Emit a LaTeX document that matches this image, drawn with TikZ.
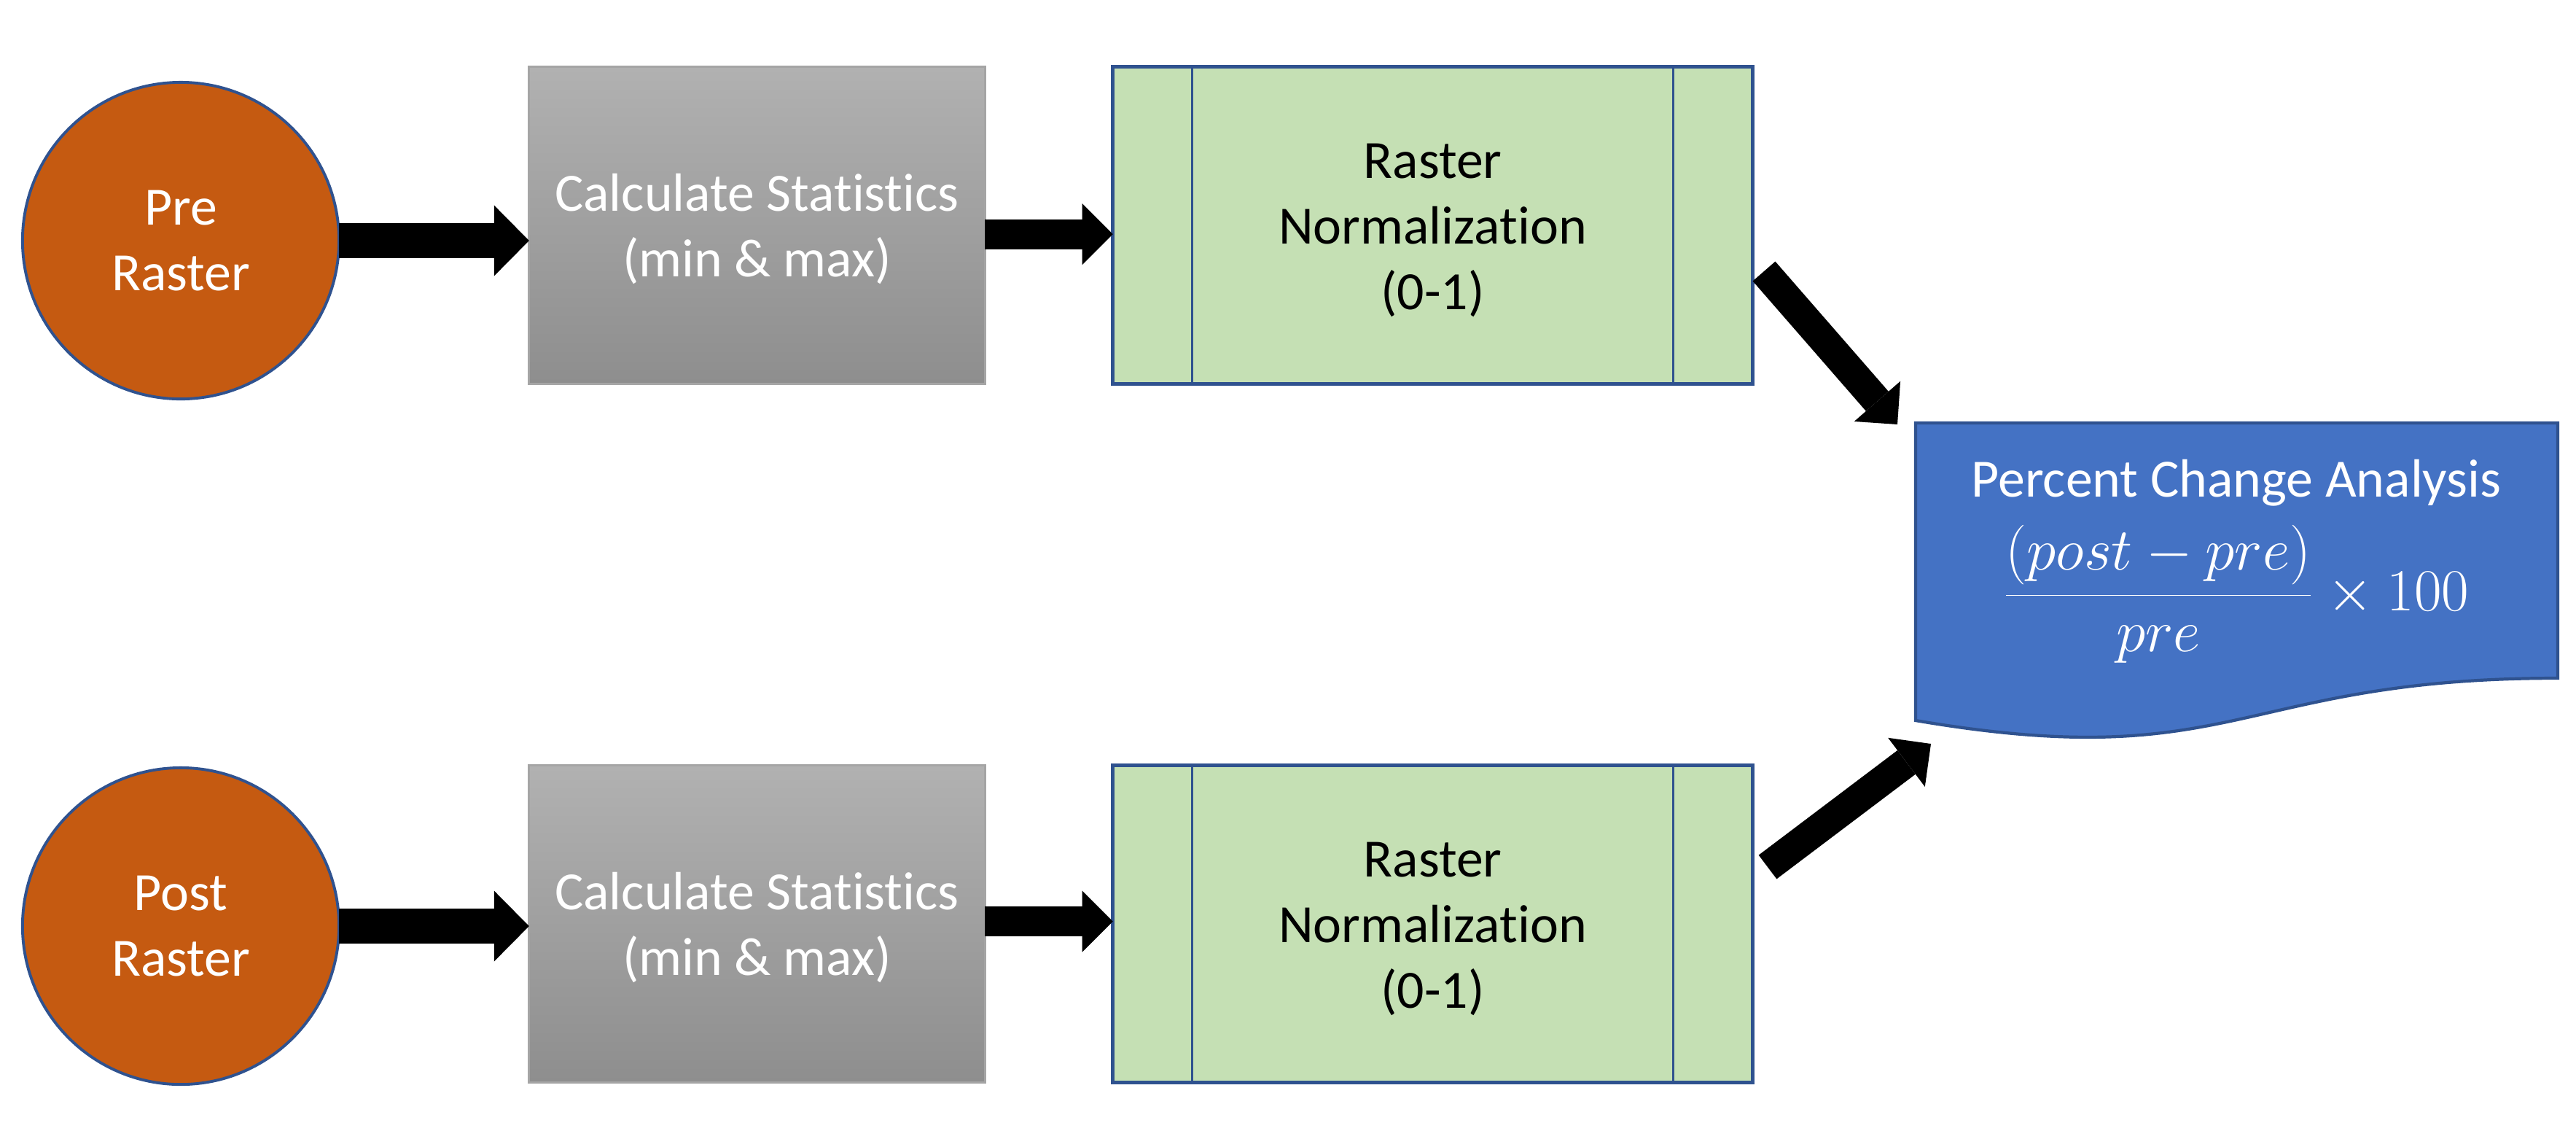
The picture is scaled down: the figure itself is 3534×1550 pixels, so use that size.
\documentclass[tikz,border=0pt]{standalone}
\usepackage{fontspec}
\setmainfont{Carlito}[Ligatures=NoCommon]
\usetikzlibrary{arrows.meta}
\definecolor{orangeC}{HTML}{C55A11}
\definecolor{blueL}{HTML}{2F528F}
\definecolor{greenF}{HTML}{C5E0B4}
\definecolor{docB}{HTML}{4472C4}
\definecolor{grayT}{HTML}{B1B1B1}
\definecolor{grayB}{HTML}{8E8E8E}
\definecolor{grayL}{HTML}{A5A5A5}
\begin{document}
\begin{tikzpicture}[x=0.01cm,y=-0.01cm,
  every node/.style={font=\fontsize{21pt}{25.6pt}\selectfont, outer sep=0pt},
  source/.style={circle, minimum size=4.34cm, inner sep=0pt, fill=orangeC, draw=blueL, line width=1.1pt, text=white, align=center},
  statbox/.style={rectangle, minimum width=6.25cm, minimum height=4.34cm, top color=grayT, bottom color=grayB, draw=grayL, line width=0.8pt},
  normbox/.style={rectangle, minimum width=8.77cm, minimum height=4.34cm, fill=greenF, draw=blueL, line width=1.4pt},
  stattext/.style={text=white, align=center, inner sep=0pt},
  normtext/.style={text=black, align=center, inner sep=0pt},
  doctext/.style={text=white, anchor=base, inner sep=0pt},
  innerline/.style={draw=blueL, line width=0.9pt},
  docshape/.style={fill=docB, draw=blueL, line width=1.2pt},
  bigA/.style={line width=0.48cm, -{Triangle[length=0.48cm, width=0.97cm, line width=0pt]}},
  midA/.style={line width=0.41cm, -{Triangle[length=0.42cm, width=0.84cm, line width=0pt]}}
]
\useasboundingbox (0,0) rectangle (3534,1550);

% sources
\node[source] (pre) at (248,330) {Pre\\Raster};
\node[source] (post) at (248,1270) {Post\\Raster};

% statistics
\node[statbox] (stat1) at (1038.5,309) {};
\node[statbox] (stat2) at (1038.5,1267) {};
\node[stattext] (stat1t) at ([yshift=-0.05cm]stat1.center) {Calculate Statistics\\(min \& max)};
\node[stattext] (stat2t) at ([yshift=-0.05cm]stat2.center) {Calculate Statistics\\(min \& max)};

% normalization
\node[normbox] (norm1) at (1965.5,309) {};
\node[normbox] (norm2) at (1965.5,1267) {};
\foreach \n in {norm1,norm2}{
  \draw[innerline] ([xshift=1.09cm]\n.north west) -- ([xshift=1.09cm]\n.south west);
  \draw[innerline] ([xshift=-1.09cm]\n.north east) -- ([xshift=-1.09cm]\n.south east);
  \node[normtext] (\n t) at ([yshift=-0.07cm]\n.center) {Raster\\Normalization\\(0-1)};
}

% percent change document
\draw[docshape] (2628,580) -- (3509,580) -- (3509,930)
  .. controls (3068.5,930) and (3068.5,1063) .. (2628,988) -- cycle;
\node[doctext] (doctitle) at (3068,681) {Percent Change Analysis};
\node[doctext, font=\fontsize{20.74pt}{26pt}\selectfont] (formula) at (3067,837)
  {\scalebox{1.12}{$\displaystyle\frac{(post-pre)}{pre}\times 100$}};

% connectors
\draw[bigA] (pre.east) -- (stat1.west |- pre.east);
\draw[bigA] (post.east) -- (stat2.west |- post.east);
\draw[midA] ([yshift=-0.12cm]stat1.east) -- ([yshift=-0.12cm]norm1.west);
\draw[midA] ([yshift=0.035cm]stat2.east) -- ([yshift=0.035cm]norm2.west);

\coordinate (d1s) at (2420,372);
\coordinate (d1e) at (2603,582);
\coordinate (d2s) at (2425,1189);
\coordinate (d2e) at (2649,1020);
\draw[midA] (d1s) -- (d1e);
\draw[midA] (d2s) -- (d2e);
\end{tikzpicture}
\end{document}
